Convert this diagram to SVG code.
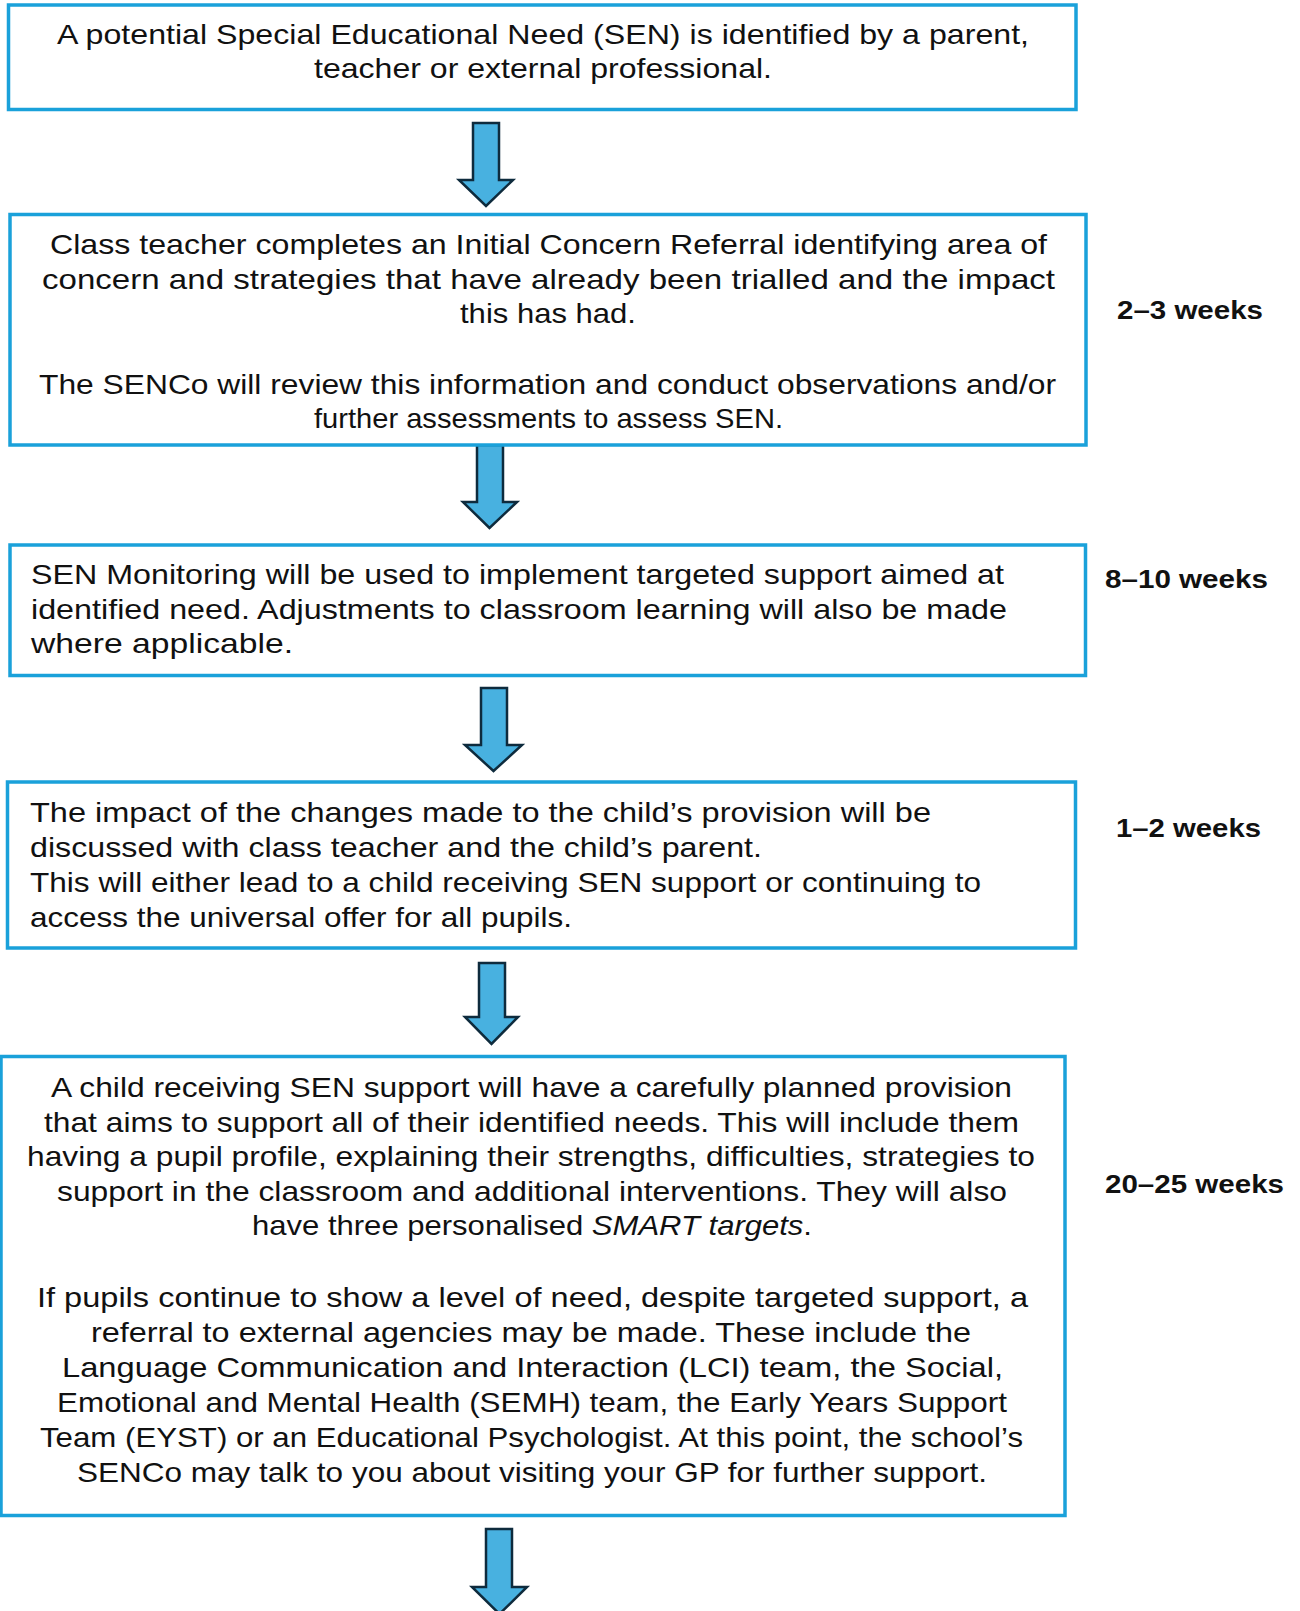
<svg xmlns="http://www.w3.org/2000/svg" width="1300" height="1611" viewBox="0 0 1300 1611">
<style>
.box{fill:#fff;stroke:#1AA1DA;stroke-width:3.5}
.t{font-family:"Liberation Sans",Arial,sans-serif;font-size:28px;fill:#111}
.w{font-family:"Liberation Sans",Arial,sans-serif;font-size:26px;font-weight:bold;fill:#111}
.arr{fill:#48B1E0;stroke:#0E2B3D;stroke-width:2.5;stroke-linejoin:miter}
</style>
<rect width="1300" height="1611" fill="#fff"/>
<g id="connectors">
<path class="arr" d="M473,123 H499 V180 H513 L486,206 L459,180 H473 Z"/>
<path class="arr" d="M477,445 H503 V502 H517 L489.5,528 L463,502 H477 Z"/>
<path class="arr" d="M481,688 H507 V745 H522 L493.5,771 L465,745 H481 Z"/>
<path class="arr" d="M479,963 H505 V1017 H518 L491.5,1044 L465,1017 H479 Z"/>
<path class="arr" d="M486,1529 H512 V1587 H527 L499.5,1614 L472,1587 H486 Z"/>
</g>
<g id="node1">
<rect class="box" x="8.5" y="5" width="1067.5" height="104.5"/>
<text class="t" x="57" y="44" textLength="972" lengthAdjust="spacingAndGlyphs">A potential Special Educational Need (SEN) is identified by a parent,</text>
<text class="t" x="314" y="78" textLength="458" lengthAdjust="spacingAndGlyphs">teacher or external professional.</text>
</g>
<g id="node2">
<rect class="box" x="10" y="214.5" width="1076" height="230.5"/>
<text class="t" x="50" y="254" textLength="997" lengthAdjust="spacingAndGlyphs">Class teacher completes an Initial Concern Referral identifying area of</text>
<text class="t" x="42" y="289" textLength="1013" lengthAdjust="spacingAndGlyphs">concern and strategies that have already been trialled and the impact</text>
<text class="t" x="460" y="323" textLength="176" lengthAdjust="spacingAndGlyphs">this has had.</text>
<text class="t" x="39" y="394" textLength="1017" lengthAdjust="spacingAndGlyphs">The SENCo will review this information and conduct observations and/or</text>
<text class="t" x="314" y="428" textLength="469" lengthAdjust="spacingAndGlyphs">further assessments to assess SEN.</text>
</g>
<g id="label1"><text class="w" x="1117" y="319" textLength="146" lengthAdjust="spacingAndGlyphs">2–3 weeks</text></g>
<g id="node3">
<rect class="box" x="10" y="545" width="1075.5" height="130.5"/>
<text class="t" x="31" y="584" textLength="973" lengthAdjust="spacingAndGlyphs">SEN Monitoring will be used to implement targeted support aimed at</text>
<text class="t" x="31" y="619" textLength="976" lengthAdjust="spacingAndGlyphs">identified need. Adjustments to classroom learning will also be made</text>
<text class="t" x="31" y="653" textLength="262" lengthAdjust="spacingAndGlyphs">where applicable.</text>
</g>
<g id="label2"><text class="w" x="1105" y="588" textLength="163" lengthAdjust="spacingAndGlyphs">8–10 weeks</text></g>
<g id="node4">
<rect class="box" x="7.5" y="782" width="1068" height="166"/>
<text class="t" x="30" y="822" textLength="901" lengthAdjust="spacingAndGlyphs">The impact of the changes made to the child’s provision will be</text>
<text class="t" x="30" y="857" textLength="732" lengthAdjust="spacingAndGlyphs">discussed with class teacher and the child’s parent.</text>
<text class="t" x="30" y="892" textLength="951" lengthAdjust="spacingAndGlyphs">This will either lead to a child receiving SEN support or continuing to</text>
<text class="t" x="30" y="927" textLength="542" lengthAdjust="spacingAndGlyphs">access the universal offer for all pupils.</text>
</g>
<g id="label3"><text class="w" x="1116" y="837" textLength="145" lengthAdjust="spacingAndGlyphs">1–2 weeks</text></g>
<g id="node5">
<rect class="box" x="1" y="1056.5" width="1064" height="459"/>
<text class="t" x="51" y="1097" textLength="961" lengthAdjust="spacingAndGlyphs">A child receiving SEN support will have a carefully planned provision</text>
<text class="t" x="44" y="1131.5" textLength="975" lengthAdjust="spacingAndGlyphs">that aims to support all of their identified needs. This will include them</text>
<text class="t" x="27" y="1166" textLength="1008" lengthAdjust="spacingAndGlyphs">having a pupil profile, explaining their strengths, difficulties, strategies to</text>
<text class="t" x="57" y="1200.5" textLength="950" lengthAdjust="spacingAndGlyphs">support in the classroom and additional interventions. They will also</text>
<text class="t" x="252" y="1235" textLength="560" lengthAdjust="spacingAndGlyphs">have three personalised <tspan font-style="italic">SMART targets</tspan>.</text>
<text class="t" x="37" y="1307" textLength="991" lengthAdjust="spacingAndGlyphs">If pupils continue to show a level of need, despite targeted support, a</text>
<text class="t" x="91" y="1341.5" textLength="880" lengthAdjust="spacingAndGlyphs">referral to external agencies may be made. These include the</text>
<text class="t" x="62" y="1376.5" textLength="941" lengthAdjust="spacingAndGlyphs">Language Communication and Interaction (LCI) team, the Social,</text>
<text class="t" x="57" y="1411.5" textLength="950" lengthAdjust="spacingAndGlyphs">Emotional and Mental Health (SEMH) team, the Early Years Support</text>
<text class="t" x="40" y="1446.5" textLength="983" lengthAdjust="spacingAndGlyphs">Team (EYST) or an Educational Psychologist. At this point, the school’s</text>
<text class="t" x="77" y="1481.5" textLength="910" lengthAdjust="spacingAndGlyphs">SENCo may talk to you about visiting your GP for further support.</text>
</g>
<g id="label4"><text class="w" x="1105" y="1193" textLength="179" lengthAdjust="spacingAndGlyphs">20–25 weeks</text></g>
</svg>
